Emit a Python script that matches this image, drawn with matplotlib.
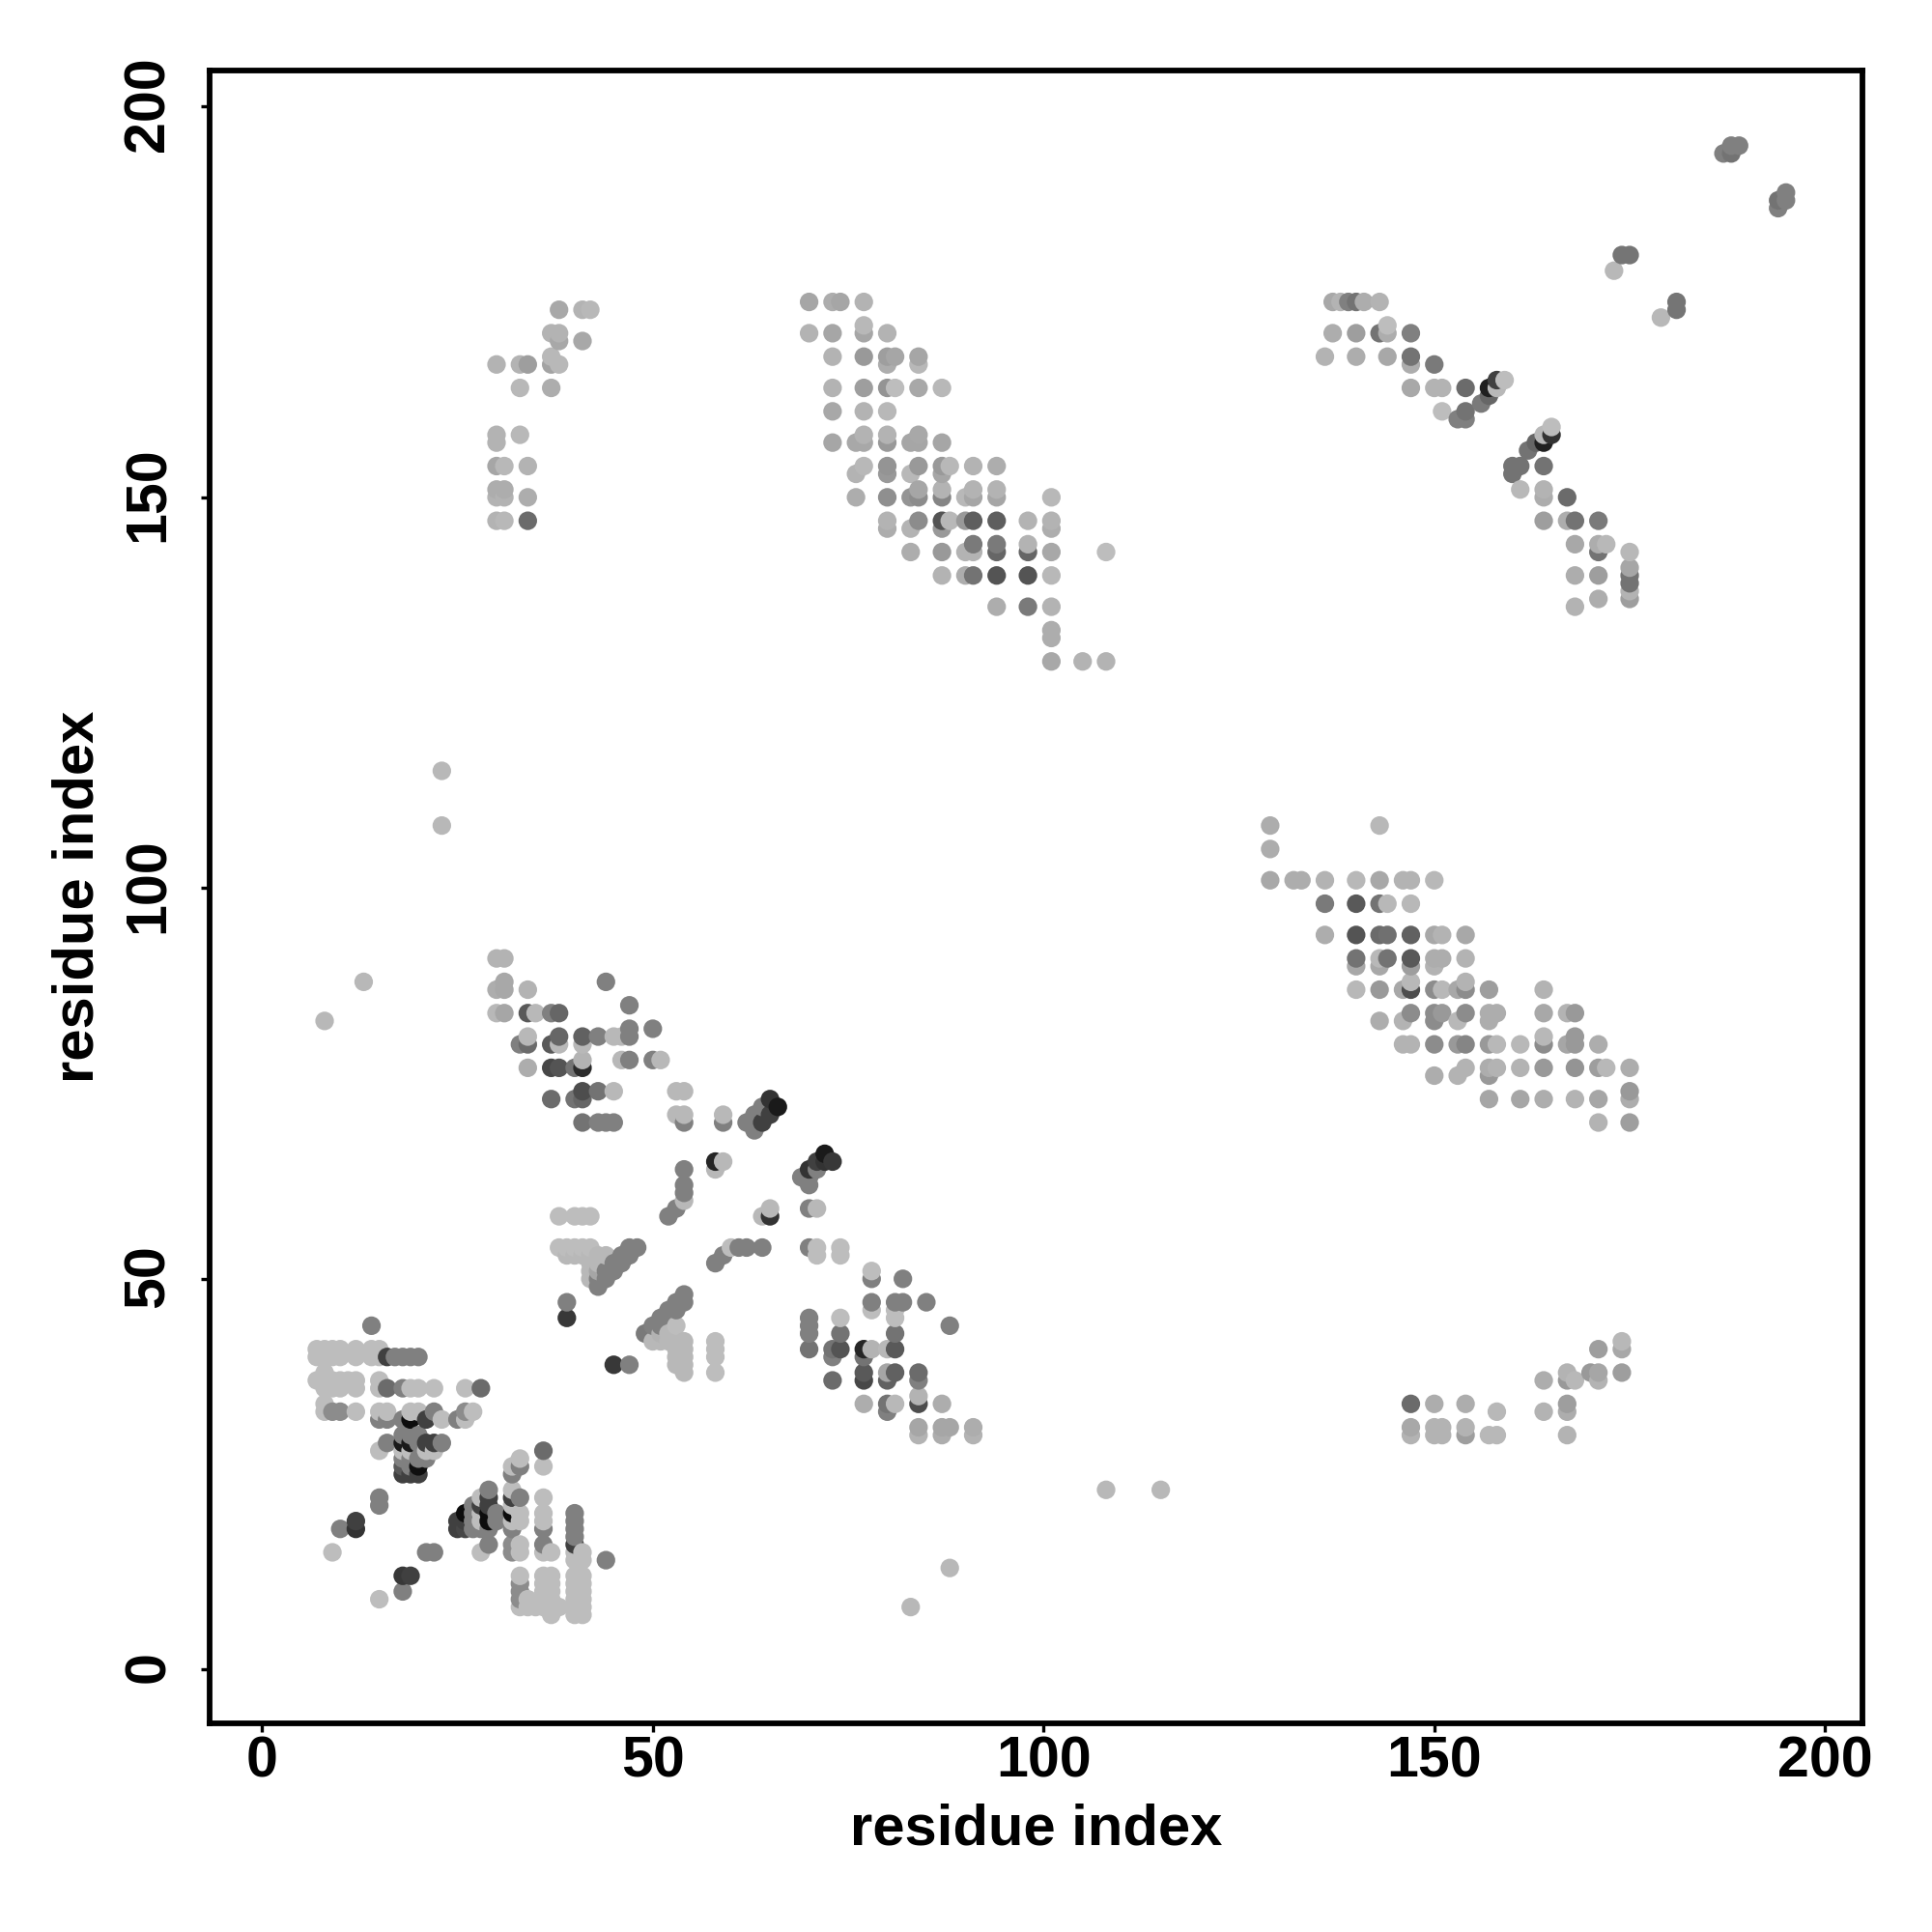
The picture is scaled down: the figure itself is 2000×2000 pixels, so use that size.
import numpy as np
import matplotlib
matplotlib.use('Agg')
import matplotlib.pyplot as plt
from matplotlib.transforms import ScaledTranslation

plt.rcParams['font.family'] = ['Liberation Sans', 'DejaVu Sans']
plt.rcParams['font.weight'] = 'bold'

# contacts: (residue i, residue j, grey level)
helix_corner = [
    (14,44,.5),
    (7,41,.74),(8,41,.74),(9,41,.74),(10,41,.74),(12,41,.74),(14,41,.74),(15,41,.74),
    (7,40,.74),(8,40,.74),(9,40,.74),(10,40,.74),(12,40,.74),(14,40,.74),(15,40,.74),
    (16,40,.25),(17,40,.5),(18,40,.5),(19,40,.5),(20,40,.5),
    (8,38,.74),(7,37,.74),(8,37,.74),(9,37,.74),(10,37,.74),(11,37,.74),(12,37,.74),(15,37,.74),
    (8,36,.74),(9,36,.74),(10,36,.74),(12,36,.74),(15,36,.74),(16,36,.42),(18,36,.5),
    (19,36,.74),(20,36,.74),(22,36,.74),(26,36,.74),(28,36,.42),
    (8,34,.74),(8,33,.74),(9,33,.55),(10,33,.55),(12,33,.74),(15,33,.74),(16,33,.74),
    (19,33,.74),(20,33,.74),(22,33,.5),(26,33,.55),(27,33,.74),
    (15,32,.5),(16,32,.5),(18,32,.5),(19,32,.05),(21,32,.25),(23,32,.74),(25,32,.5),(26,32,.74),
    (18,30,.5),(19,30,.5),(20,30,.5),
    (16,29,.5),(18,29,.1),(19,29,.1),(20,29,.5),(21,29,.25),(22,29,.25),(23,29,.5),
    (15,28,.74),(18,28,.74),(19,28,.74),(21,28,.74),(22,28,.74),
    (18,27,.5),(19,27,.5),(20,27,.5),(21,27,.5),
    (18,26,.35),(19,26,.5),(20,26,.06),(18,25,.25),(19,25,.25),(20,25,.25),
]
short_diag = [
    (15,22,.5),(15,21,.5),(12,19,.25),(12,18,.2),(10,18,.5),(9,15,.74),
    (21,15,.5),(22,15,.5),(18,12,.22),(19,12,.25),(18,10,.5),(15,9,.74),
]
strand_corner = [
    (36,28,.42),(36,26,.74),(33,27,.74),(32,26,.74),(33,26,.5),(32,25,.5),
    (29,23,.5),(32,23,.74),(28,22,.74),(29,22,.25),(32,22,.25),(33,22,.5),(36,22,.74),
    (27,21,.5),(28,21,.25),(29,21,.25),(32,21,.74),
    (26,20,.05),(27,20,.5),(28,20,.74),(29,20,.05),(30,20,.5),(32,20,.05),(33,20,.74),(36,20,.74),(40,20,.5),
    (25,19,.25),(26,19,.25),(27,19,.5),(28,19,.74),(29,19,.05),(30,19,.5),(32,19,.74),(33,19,.74),(36,19,.74),(40,19,.5),
    (25,18,.25),(26,18,.28),(27,18,.5),(28,18,.5),(29,18,.5),(32,18,.5),(36,18,.5),(40,18,.5),
    (40,17,.5),(29,16,.5),(32,16,.55),(33,16,.74),(36,16,.5),(40,16,.25),
    (28,15,.74),(32,15,.55),(33,15,.74),(36,15,.74),(37,15,.74),(40,15,.74),(41,15,.74),(40,14,.74),(41,14,.74),(44,14,.5),
    (33,12,.74),(36,12,.74),(37,12,.74),(40,12,.74),(41,12,.74),
    (33,11,.55),(36,11,.74),(37,11,.74),(40,11,.74),(41,11,.74),
    (33,10,.55),(36,10,.74),(37,10,.74),(40,10,.74),(41,10,.74),
    (33,9,.55),(34,9,.74),(36,9,.74),(37,9,.74),(40,9,.74),(41,9,.74),
    (33,8,.74),(34,8,.74),(35,8,.74),(36,8,.74),(37,8,.74),(38,8,.74),(40,8,.74),(41,8,.74),
    (37,7,.74),(40,7,.74),(41,7,.74),
]
upper_left_sheet = [
    (30,91,.7),(31,91,.7),(31,88,.66),(30,87,.68),(31,87,.66),(34,87,.7),
    (30,84,.72),(31,84,.65),(34,84,.35),(35,84,.72),(37,84,.5),(38,84,.4),
    (44,88,.5),(47,85,.5),(47,82,.5),(50,82,.5),(47,81,.5),(45,81,.72),(46,81,.72),(43,81,.5),
    (41,81,.38),(38,81,.4),(37,80,.35),(38,80,.72),(34,81,.72),(33,80,.5),(34,80,.42),(41,80,.72),
    (34,77,.68),(37,77,.28),(38,77,.33),(40,77,.45),(41,77,.17),(41,78,.7),
    (46,78,.72),(47,78,.5),(50,78,.5),(51,78,.72),
    (37,73,.42),(40,73,.45),(41,73,.4),(41,74,.3),(43,74,.45),(45,74,.72),
    (41,70,.45),(43,70,.5),(44,70,.5),(45,70,.5),
    (53,74,.72),(54,74,.72),(53,71,.72),(54,71,.72),(54,70,.5),(59,71,.72),(59,70,.5),
]
middle_diag = [
    (65,73,.2),(66,72,.1),(64,72,.5),(65,71,.25),(64,70,.25),(62,70,.5),(63,71,.5),(63,69,.5),
    (58,65,.15),(59,65,.72),(58,64,.72),
    (54,64,.5),(54,62,.5),(54,61,.5),(54,60,.72),(53,59,.5),(52,58,.5),
    (72,66,.1),(73,65,.22),(71,65,.25),(72,65,.2),(70,64,.2),(71,64,.5),(69,63,.5),(70,63,.5),(70,62,.5),
    (70,59,.5),(71,59,.72),(65,59,.72),(64,58,.72),(65,58,.2),
    (38,58,.74),(40,58,.74),(41,58,.74),(42,58,.74),
    (38,54,.74),(39,54,.74),(40,54,.74),(41,54,.74),(42,54,.74),(47,54,.5),(48,54,.5),
    (70,54,.5),(71,54,.74),(74,54,.74),(64,54,.5),(61,54,.5),(62,54,.5),(60,54,.74),
    (39,53,.72),(40,53,.72),(41,53,.72),(42,53,.72),(43,53,.72),(44,53,.72),(46,53,.5),(47,53,.5),
    (71,53,.74),(74,53,.74),(59,53,.5),
    (42,52,.72),(43,52,.72),(45,52,.5),(46,52,.5),(42,51,.72),(43,51,.65),(44,51,.5),(45,51,.5),
    (42,50,.72),(43,50,.5),(44,50,.5),(43,49,.5),(58,52,.5),
    (39,47,.5),(39,45,.22),(45,39,.22),(47,39,.5),
    (54,48,.5),(54,47,.5),(53,47,.5),(52,46,.5),(53,46,.5),(51,45,.5),(50,44,.5),(51,44,.5),(49,43,.48),
    (53,44,.74),(51,43,.7),(52,43,.72),(50,42,.72),(51,42,.72),(52,42,.72),(53,42,.72),(54,42,.72),
    (53,41,.72),(54,41,.72),(53,40,.72),(54,40,.72),(53,39,.72),(54,39,.72),(54,38,.72),
    (58,42,.74),(58,41,.74),(58,40,.74),(58,38,.74),
]
lower_strand = [
    (70,45,.5),(70,44,.5),(70,43,.5),(70,41,.45),(74,45,.74),(74,43,.45),(73,41,.45),(74,41,.33),
    (73,40,.5),(73,37,.42),(77,41,.15),(78,41,.7),(77,40,.45),(77,38,.35),(77,37,.28),(77,34,.68),
    (80,41,.72),(81,41,.35),(81,43,.45),(81,45,.74),(81,46,.74),(81,47,.5),(82,47,.5),
    (78,47,.5),(78,46,.74),(78,51,.74),(78,50,.5),(82,50,.5),(85,47,.5),(88,44,.5),
    (80,38,.65),(81,38,.38),(80,37,.38),(84,38,.42),(84,37,.5),(80,34,.45),(81,34,.72),(80,33,.5),
    (84,35,.7),(84,34,.3),(87,34,.68),(84,31,.65),(84,30,.7),(87,31,.65),(88,31,.65),(87,30,.68),(91,31,.68),(91,30,.7),
]
upper_mid_sheet = [
    (70,175,.65),(73,175,.68),(74,175,.65),(77,175,.7),(77,172,.72),
    (70,171,.7),(73,171,.65),(77,171,.65),(80,171,.7),
    (73,168,.7),(77,168,.6),(80,168,.62),(81,168,.65),(84,168,.65),(80,167,.68),(84,167,.72),
    (73,164,.7),(77,164,.62),(80,164,.58),(81,164,.74),(84,164,.66),(87,164,.72),
    (73,161,.66),(77,161,.7),(80,161,.72),(77,158,.7),(80,158,.7),(84,158,.66),
    (73,157,.65),(76,157,.66),(77,157,.66),(80,157,.6),(83,157,.65),(84,157,.65),(87,157,.65),
    (77,154,.72),(80,154,.58),(84,154,.6),(87,154,.6),(88,154,.72),(91,154,.7),(94,154,.68),
    (76,153,.7),(80,153,.6),(83,153,.72),(87,153,.65),
    (84,151,.65),(87,151,.7),(91,151,.7),(94,151,.7),
    (76,150,.68),(80,150,.56),(83,150,.58),(84,150,.55),(87,150,.52),(90,150,.72),(91,150,.65),(94,150,.65),(101,150,.72),
    (80,147,.7),(84,147,.55),(87,147,.33),(88,147,.72),(90,147,.6),(91,147,.37),(94,147,.37),(98,147,.7),(101,147,.7),
    (80,146,.68),(83,146,.7),(87,146,.6),(101,146,.68),
    (91,144,.48),(94,144,.48),(98,144,.7),
    (83,143,.68),(87,143,.6),(90,143,.7),(91,143,.7),(94,143,.4),(98,143,.4),(101,143,.66),(108,143,.74),
    (87,140,.7),(90,140,.68),(91,140,.45),(94,140,.33),(98,140,.33),(101,140,.72),
    (94,136,.68),(98,136,.48),(101,136,.7),(101,133,.68),(101,132,.68),(101,129,.66),(105,129,.7),(108,129,.7),
]
right_sheet = [
    (129,108,.68),(143,108,.72),(129,105,.68),
    (129,101,.66),(132,101,.68),(133,101,.68),(136,101,.7),(140,101,.72),(143,101,.66),(146,101,.7),(147,101,.7),(150,101,.72),
    (136,98,.48),(140,98,.35),(143,98,.45),(144,98,.72),(147,98,.72),
    (136,94,.68),(140,94,.33),(143,94,.42),(144,94,.44),(147,94,.38),(150,94,.66),(151,94,.7),(154,94,.66),
    (140,91,.45),(143,91,.72),(144,91,.45),(147,91,.35),(150,91,.68),(151,91,.68),(154,91,.7),
    (140,90,.66),(143,90,.66),(147,90,.62),(150,90,.7),(147,88,.72),(154,88,.7),
    (140,87,.72),(143,87,.6),(146,87,.66),(147,87,.3),(150,87,.55),(151,87,.72),(153,87,.66),(154,87,.55),(157,87,.62),(164,87,.7),
    (147,84,.55),(150,84,.55),(151,84,.6),(154,84,.55),(157,84,.68),(158,84,.68),(164,84,.66),(167,84,.7),(168,84,.6),
    (143,83,.68),(146,83,.7),(150,83,.55),(153,83,.72),(157,83,.68),(164,81,.72),(168,81,.6),
    (146,80,.7),(147,80,.7),(150,80,.55),(153,80,.6),(154,80,.52),(157,80,.6),(158,80,.72),(161,80,.72),(164,80,.55),(167,80,.65),(168,80,.6),(171,80,.68),
    (154,77,.7),(157,77,.68),(158,77,.7),(161,77,.7),(164,77,.6),(168,77,.58),(171,77,.62),(172,77,.72),(175,77,.68),
    (150,76,.68),(153,76,.7),(157,76,.6),(175,74,.6),
    (157,73,.65),(161,73,.65),(164,73,.68),(168,73,.7),(171,73,.65),(175,73,.68),(171,70,.7),(175,70,.62),
]
upper_right_sheet = [
    (137,175,.66),(138,175,.7),(139,175,.5),(140,175,.45),(141,175,.68),(143,175,.7),(144,172,.74),
    (137,171,.68),(140,171,.62),(143,171,.45),(144,171,.68),(147,171,.5),
    (136,168,.7),(140,168,.68),(144,168,.66),(147,168,.45),(147,167,.68),(150,167,.48),
    (147,164,.66),(150,164,.7),(151,164,.7),(154,164,.42),(157,164,.12),(158,164,.72),(158,165,.25),(159,165,.74),
    (157,163,.4),(156,162,.48),(151,161,.74),(154,161,.45),(153,160,.5),(154,160,.5),
    (165,159,.74),(165,158,.2),(164,158,.72),(164,157,.13),(163,157,.4),(162,156,.45),
    (160,154,.45),(161,154,.45),(164,154,.45),(160,153,.45),(161,151,.72),(164,151,.7),(164,150,.68),(167,150,.42),
    (164,147,.62),(167,147,.68),(168,147,.45),(171,147,.48),
    (168,144,.66),(171,144,.68),(172,144,.72),(171,143,.45),(175,143,.72),
    (175,141,.65),(168,140,.68),(171,140,.62),(175,140,.45),(175,139,.45),(175,138,.7),(171,137,.68),(175,137,.62),(168,136,.7),
]
upper_left_patch = [
    (38,174,.66),(41,174,.7),(42,174,.72),(37,171,.7),(38,171,.7),(38,170,.66),(41,170,.66),
    (37,168,.72),(30,167,.7),(33,167,.7),(34,167,.62),(37,167,.64),(38,167,.72),(33,164,.72),(37,164,.68),
    (30,158,.7),(33,158,.72),(30,157,.7),(30,154,.65),(31,154,.72),(34,154,.7),
    (30,151,.68),(31,151,.68),(30,150,.7),(31,150,.7),(34,150,.68),(30,147,.7),(31,147,.72),(34,147,.42),
]
lower_right_patch = [
    (147,34,.42),(150,34,.68),(154,34,.68),(158,33,.72),
    (147,31,.66),(150,31,.7),(151,31,.7),(154,31,.7),(147,30,.7),(150,30,.7),(151,30,.7),(154,30,.62),(157,30,.72),(158,30,.72),
    (164,37,.68),(164,33,.7),(167,38,.7),(167,37,.6),(168,37,.72),(167,34,.62),(167,33,.68),(167,30,.7),
    (170,38,.6),(171,38,.65),(171,37,.7),(171,41,.62),(174,42,.72),(174,41,.66),(174,38,.62),
]
top_right = [
    (187,194,.5),(188,194,.45),(188,195,.5),(189,195,.5),
    (194,187,.5),(194,188,.45),(195,188,.5),(195,189,.5),
    (173,179,.72),(174,181,.46),(175,181,.46),(179,173,.72),(181,174,.46),(181,175,.46),
]
isolated = [
    (23,115,.72),(23,108,.72),(8,83,.72),(13,88,.72),(108,23,.72),(115,23,.72),(88,13,.72),(83,8,.72),
]

ticks = [0, 50, 100, 150, 200]

blocks = [helix_corner, short_diag, strand_corner, upper_left_sheet, middle_diag, lower_strand,
          upper_mid_sheet, right_sheet, upper_right_sheet, upper_left_patch, lower_right_patch,
          top_right, isolated]
contacts = np.array([c for block in blocks for c in block])
# later residues sit on top in the original
order = np.lexsort((contacts[:, 1], contacts[:, 0]))
contacts = contacts[order]

fig = plt.figure(figsize=(10, 10), dpi=200)
ax = fig.add_axes([216.7/2000, 1 - 1784/2000, 1711.8/2000, 1711.3/2000])
ax.scatter(contacts[:, 0], contacts[:, 1], s=48, c=[str(g) for g in contacts[:, 2]], linewidths=0)

ax.set_xlim(-6.75, 204.85)
ax.set_ylim(-6.88, 204.65)
ax.set_xticks(ticks)
ax.set_yticks(ticks)
ax.tick_params(length=3.2, width=1.2, labelsize=21.3)
ax.tick_params(axis='x', pad=1.3)
ax.tick_params(axis='y', pad=9.4)
for label in ax.get_yticklabels():
    label.set_rotation(90)
    label.set_va('center')
    label.set_transform(label.get_transform() + ScaledTranslation(0, 1/72, fig.dpi_scale_trans))
for side in ax.spines.values():
    side.set_linewidth(2.1)

ax.set_xlabel('residue index', fontsize=21.5, fontweight='bold', labelpad=5.5)
ax.set_ylabel('residue index', fontsize=21.5, fontweight='bold', labelpad=6.6)

fig.savefig('out.png', dpi=200)
